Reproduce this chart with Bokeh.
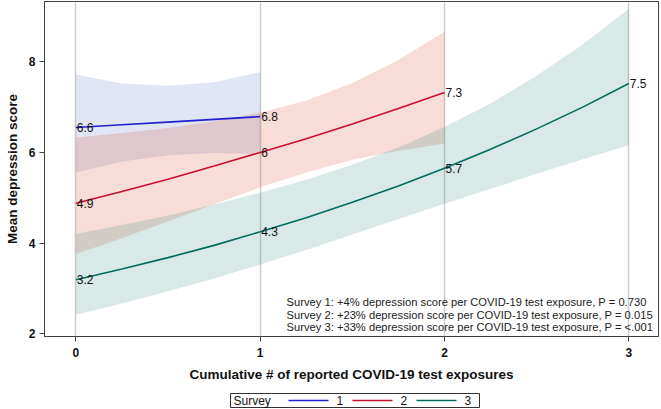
from bokeh.plotting import figure
from bokeh.layouts import column
from bokeh.models import Range1d, FixedTicker, Label, ColumnDataSource
from bokeh.core.properties import value
from bokeh.embed import file_html
from bokeh.resources import INLINE

# ---- data ----
x1 = [0, 0.25, 0.5, 0.75, 1]
mean1 = [6.55, 6.61, 6.67, 6.73, 6.79]
upper1 = [7.72, 7.52, 7.47, 7.55, 7.77]
lower1 = [5.56, 5.80, 5.94, 5.99, 5.97]

x2 = [0, 0.25, 0.5, 0.75, 1, 1.25, 1.5, 1.75, 2]
mean2 = [4.88, 5.14, 5.41, 5.70, 6.00, 6.30, 6.63, 6.97, 7.32]
upper2 = [6.33, 6.43, 6.54, 6.69, 6.88, 7.14, 7.53, 8.04, 8.66]
lower2 = [3.76, 4.11, 4.48, 4.86, 5.23, 5.56, 5.84, 6.04, 6.19]

x3 = [0, 0.25, 0.5, 0.75, 1, 1.25, 1.5, 1.75, 2, 2.25, 2.5, 2.75, 3]
mean3 = [3.19, 3.43, 3.68, 3.95, 4.25, 4.56, 4.90, 5.26, 5.65, 6.07, 6.52, 7.00, 7.52]
upper3 = [4.20, 4.40, 4.61, 4.85, 5.11, 5.40, 5.73, 6.11, 6.56, 7.08, 7.69, 8.38, 9.17]
lower3 = [2.42, 2.67, 2.94, 3.22, 3.53, 3.85, 4.19, 4.53, 4.87, 5.20, 5.53, 5.85, 6.16]

pt_x1 = [0, 1]
pt_y1 = [6.55, 6.79]
pt_lab1 = ["6.6", "6.8"]
pt_x2 = [0, 1, 2]
pt_y2 = [4.88, 6.00, 7.32]
pt_lab2 = ["4.9", "6", "7.3"]
pt_x3 = [0, 1, 2, 3]
pt_y3 = [3.19, 4.25, 5.65, 7.52]
pt_lab3 = ["3.2", "4.3", "5.7", "7.5"]

legend_title = "Survey"
survey_names = ["1", "2", "3"]
x_ticks = [0, 1, 2, 3]
y_ticks = [2, 4, 6, 8]
notes = [
    "Survey 1:  +4% depression score per COVID-19 test exposure, P = 0.730",
    "Survey 2:  +23% depression score per COVID-19 test exposure, P = 0.015",
    "Survey 3: +33% depression score per COVID-19 test exposure, P = <.001",
]

FONT = "Liberation Sans"
line_cols = ["#1f1fd4", "#c8102e", "#006b5e"]
band_cols = ["#5a78c0", "#d2462d", "#328c82"]
W = 659
FL, FR = 44, 1   # frame borders (left, right)

p = figure(width=W, height=384, output_backend="svg", toolbar_location=None,
           x_range=Range1d(-0.17, 3.161), y_range=Range1d(1.94, 9.33),
           min_border_left=FL, min_border_right=FR, min_border_top=1, min_border_bottom=0)
p.background_fill_color = "white"
p.border_fill_color = "white"
p.outline_line_color = "#404040"
p.outline_line_width = 1

# bands
for xs, lo, up, c in [(x1, lower1, upper1, band_cols[0]), (x2, lower2, upper2, band_cols[1]),
                      (x3, lower3, upper3, band_cols[2])]:
    p.varea(x=xs, y1=lo, y2=up, fill_color=c, fill_alpha=0.19)

# lines
for xs, ms, c in [(x1, mean1, line_cols[0]), (x2, mean2, line_cols[1]), (x3, mean3, line_cols[2])]:
    p.line(x=xs, y=ms, line_color=c, line_width=1.6)

# value labels
for xs, ys, labs in [(pt_x1, pt_y1, pt_lab1), (pt_x2, pt_y2, pt_lab2), (pt_x3, pt_y3, pt_lab3)]:
    src = ColumnDataSource(dict(x=xs, y=ys, t=labs))
    p.text(x="x", y="y", text="t", source=src, text_font=value(FONT), text_font_size="12px",
           text_color="#111111", text_align="left", text_baseline="alphabetic", x_offset=1)

# notes
for i, t in enumerate(notes):
    p.add_layout(Label(x=1.143, y=2.71 - 0.285 * i, text=t, text_font=FONT, text_font_size="11.2px",
                       text_color="#222222", text_baseline="middle", text_align="left"))

# axes
for ax in (p.xaxis[0], p.yaxis[0]):
    ax.axis_line_color = "#404040"
    ax.major_tick_line_color = "#404040"
    ax.major_tick_out = 5
    ax.major_tick_in = 0
    ax.minor_tick_line_color = None
    ax.major_label_text_font = FONT
    ax.major_label_text_font_style = "bold"
    ax.major_label_text_font_size = "12px"
    ax.major_label_text_color = "#111111"
    ax.axis_label_text_font = FONT
    ax.axis_label_text_font_style = "bold"
    ax.axis_label_text_font_size = "13.5px"
    ax.axis_label_text_color = "#111111"

p.xaxis.ticker = FixedTicker(ticks=x_ticks)
p.yaxis.ticker = FixedTicker(ticks=y_ticks)
p.xaxis.axis_label = "Cumulative # of reported COVID-19 test exposures"
p.yaxis.axis_label = "Mean depression score"
p.xaxis.major_label_standoff = 6
p.xaxis.axis_label_standoff = 7
p.yaxis.major_label_standoff = 4
p.yaxis.axis_label_standoff = 6
p.yaxis.major_label_orientation = "horizontal"

p.xgrid.ticker = FixedTicker(ticks=x_ticks)
p.xgrid.grid_line_color = "#cccccc"
p.xgrid.grid_line_width = 1.5
p.ygrid.grid_line_color = None

# ---- legend strip (own small figure; its frame is aligned with the main frame) ----
leg = figure(width=W, height=24, output_backend="svg", toolbar_location=None,
             x_range=Range1d(FL, W - FR), y_range=Range1d(0, 24),
             x_axis_location=None, y_axis_location=None,
             min_border_left=FL, min_border_right=FR, min_border_top=0, min_border_bottom=0)
leg.grid.visible = False
leg.outline_line_color = None
leg.background_fill_color = "white"
leg.border_fill_color = "white"

box_l, box_r, box_b, box_t = 230, 479, 1, 15
mid = (box_b + box_t) / 2
leg.quad(left=[box_l], right=[box_r], bottom=[box_b], top=[box_t], fill_color="white",
         line_color="#333333", line_width=1)
leg.text(x=[box_l + 3], y=[mid], text=[legend_title], text_font=value(FONT),
         text_font_size="12px", text_color="#111111", text_baseline="middle", text_align="left")
seg_start = [box_l + 58, box_l + 122, box_l + 186]
seg_len = 40
leg.segment(x0=seg_start, x1=[s + seg_len for s in seg_start],
            y0=[mid] * 3, y1=[mid] * 3, line_color=line_cols, line_width=1.6)
leg.text(x=[s + seg_len + 8 for s in seg_start], y=[mid] * 3, text=survey_names,
         text_font=value(FONT), text_font_size="12px", text_color="#111111",
         text_baseline="middle", text_align="left")

layout = column(p, leg, spacing=0)
open("out.html", "w").write(file_html(layout, INLINE))
